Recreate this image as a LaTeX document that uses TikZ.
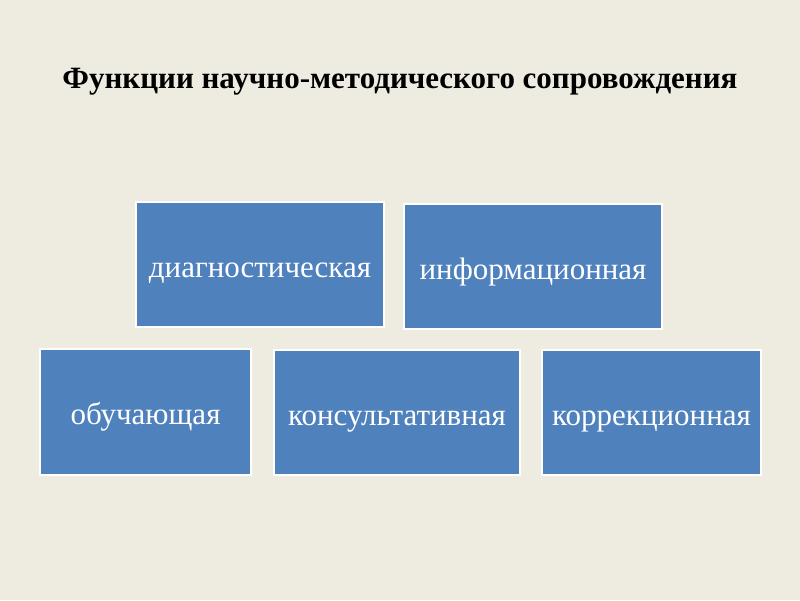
\documentclass[tikz,border=0pt]{standalone}
\usepackage{fontspec}
\setmainfont{Liberation Serif}
\definecolor{bg}{HTML}{EEECE1}
\definecolor{boxblue}{HTML}{4F81BD}
\begin{document}
\begin{tikzpicture}[x=1pt,y=-1pt,
  fbox/.style={draw=white,line width=2pt,fill=boxblue,text=white,font=\fontsize{31}{34}\selectfont,inner sep=0pt,text height=25pt,text depth=0pt}]
\useasboundingbox (0,0) rectangle (800,600);
\fill[bg] (0,0) rectangle (800,600);
\node[font=\bfseries\fontsize{25}{28}\selectfont,anchor=base,inner sep=0pt] (title) at (400,88) {\resizebox{675pt}{!}{Функции научно-методического сопровождения}};
\node[fbox,minimum width=248pt,minimum height=125pt] (b1) at (260,264.5) {диагностическая};
\node[fbox,minimum width=258pt,minimum height=125pt] (b2) at (533,266.5) {информационная};
\node[fbox,minimum width=211pt,minimum height=126pt] (b3) at (145.5,412) {обучающая};
\node[fbox,minimum width=246pt,minimum height=125pt] (b4) at (397,412.5) {консультативная};
\node[fbox,minimum width=219pt,minimum height=125pt] (b5) at (651.5,412.5) {коррекционная};
\end{tikzpicture}
\end{document}
